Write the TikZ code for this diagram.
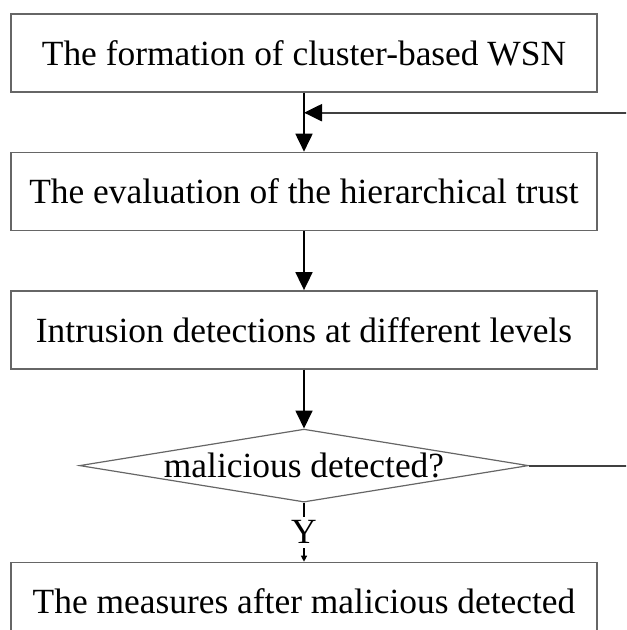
\documentclass[tikz,border=0pt]{standalone}
\usepackage{fontspec}
\setmainfont{Liberation Serif}
\usetikzlibrary{positioning,shapes.geometric,arrows.meta}

\begin{document}
\begin{tikzpicture}[>={Triangle[length=9pt,width=8.5pt,color=black]}, font=\fontsize{17.7}{20}\selectfont,
  node distance=29.5pt,
  box/.style={draw=black!60, line width=0.7pt, minimum width=293pt, minimum height=39pt, inner sep=0pt},
  decision/.style={diamond, aspect=6.15, draw=black!60, line width=0.6pt, minimum width=224.5pt, minimum height=36.5pt, inner sep=0pt},
  flow/.style={->, line width=0.9pt}]
\useasboundingbox (0,0) rectangle (313pt,-315pt);
\clip (0,0) rectangle (313pt,-315pt);
\node[box] (form) at (152pt,-26.5pt) {The formation of cluster-based WSN};
\node[box, below=of form] (eval) {The evaluation of the hierarchical trust};
\node[box, below=of eval] (intr) {Intrusion detections at different levels};
\node[decision, below=of intr] (dec) {malicious detected?};
\node[box, below=of dec] (meas) {The measures after malicious detected};
\coordinate[below=10pt of form] (join);
\draw[flow] (form) -- (eval);
\draw[flow] (eval) -- (intr);
\draw[flow] (intr) -- (dec);
\draw[->, >={Triangle[length=3pt,width=3pt]}, line width=0.6pt] (dec) -- node[fill=white, inner sep=2pt] {Y} (meas);
% loop back when nothing is found
\draw[flow, draw=black!75, line width=1.1pt] (dec.east) -- ++(60pt,0) |- (join);
\end{tikzpicture}
\end{document}
